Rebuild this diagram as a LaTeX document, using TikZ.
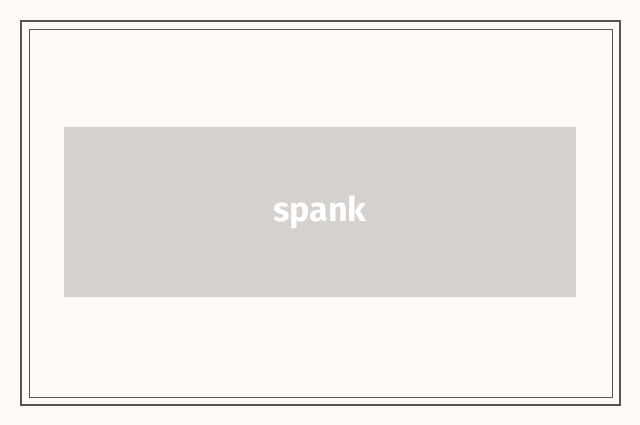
\documentclass[tikz,border=0pt]{standalone}
\usepackage{fontspec}
\setmainfont{Fira Sans}
\definecolor{bg}{HTML}{FFFAF7}
\definecolor{frame}{HTML}{555555}
\definecolor{boxc}{HTML}{D4D1CE}
\begin{document}
\begin{tikzpicture}[x=1pt,y=-1pt]
\fill[bg] (0,0) rectangle (640,425);
\useasboundingbox (0,0) rectangle (640,425);
\draw[frame,line width=1.5pt] (21,21) rectangle (620,405);
\draw[frame,line width=0.7pt] (29,29) rectangle (612,397);
\node[fill=boxc,minimum width=512pt,minimum height=170pt,inner sep=0pt,text=white,font=\fontsize{34}{40}\selectfont\bfseries] (box) at (320,212) {spank};
\end{tikzpicture}
\end{document}
